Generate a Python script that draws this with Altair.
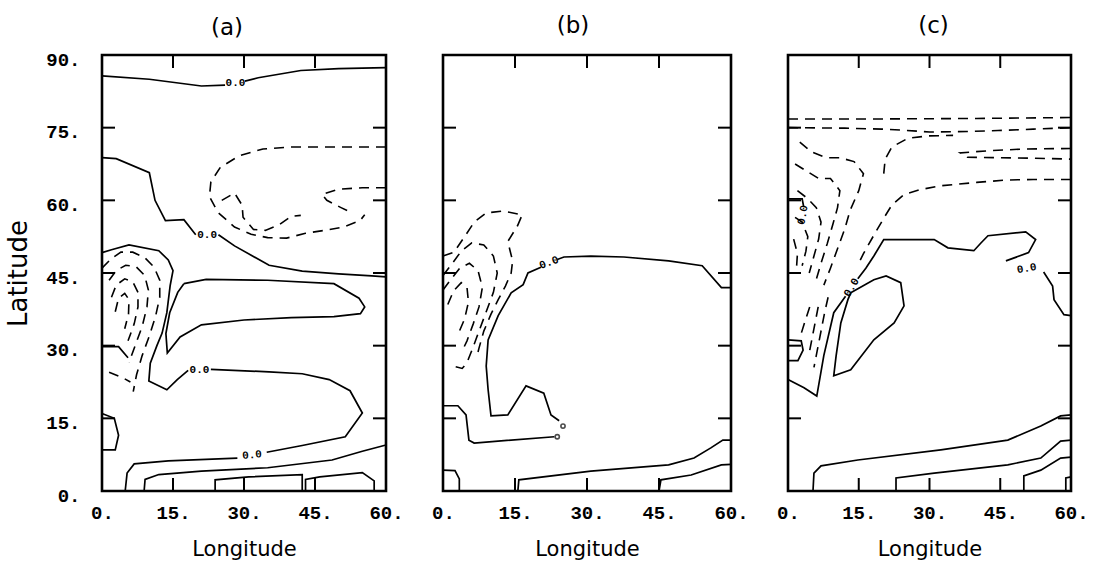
import altair as alt
import pandas as pd

# Axis ticks and labels
LON_TICKS = [0, 15, 30, 45, 60]
LAT_TICKS = [0, 15, 30, 45, 60, 75, 90]
LON_INNER = [15, 30, 45]
LAT_INNER = [15, 30, 45, 60, 75]

# ---------------- panel (a) contours: (lon, lat) ----------------
a_top_w = [(0, 85.7), (10, 85.0), (21, 83.6), (26, 83.8)]
a_top_e = [(30.2, 84.6), (33, 85.3), (42, 86.8), (50, 87.2), (60, 87.4)]
a_mid_w = [(0, 68.8), (3, 68.6), (10, 65.7), (11.2, 60), (13.4, 55.8), (17.3, 56), (19.8, 52.9)]
a_mid_e = [(24.6, 52.9), (28, 50.6), (35.3, 46.6), (42.3, 45.4), (50, 44.8), (57, 44.4), (60, 44.2)]
a_loop_n = [(0, 49.2), (2, 49.8), (5.7, 50.8), (12, 49.6), (14, 47.7), (15, 45.5), (14.4, 42.4),
            (13.7, 36.8), (12.7, 32.6), (11.6, 30), (10.2, 26.4), (9.9, 22.7), (13.7, 20.9),
            (15.9, 23), (18.2, 24.9)]
a_loop_s = [(23, 25.1), (35.3, 24.6), (42.3, 24.2), (48, 23), (52.4, 20.7), (55, 16.1),
            (51.4, 11.2), (42.3, 9.4), (34.8, 8.0)]
a_loop_b = [(28.6, 6.8), (14, 6.2), (6.8, 5.6), (5.3, 3.7), (4.9, 0)]
a_tongue = [(17.3, 42.8), (22, 43.7), (35, 43.5), (49, 42.8), (54.3, 39.8), (55.5, 38),
            (54.6, 36.6), (49, 36), (40, 35.8), (30, 35.3), (21, 34.3), (16.5, 31.8),
            (13.8, 28.5), (13.5, 32.5), (14.3, 36.8), (16, 41), (17.3, 42.8)]
a_edge_box = [(0, 16), (2.6, 15), (3.5, 11.5), (2.8, 8.5), (0, 8.5)]
a_edge_30 = [(0, 29.8), (3.5, 29.8), (5.5, 27.5)]
a_low1 = [(8.9, 0), (9.1, 2.4), (12, 3.4), (21, 4.1), (35, 4.8), (48.6, 6.4), (55, 8.2), (60, 9.5)]
a_low2 = [(23.9, 0), (23.9, 2.3), (31, 2.9), (42.3, 3.4), (42.3, 0)]
a_low3 = [(43, 0), (43, 2.4), (46, 2.9), (55, 3.8), (57.5, 2.1), (57.5, 0)]

a_neg_outer = [(60, 71), (50, 71), (40, 71), (34, 70.6), (29, 69.2), (25, 66.8), (23, 63.8),
               (22.7, 60.8), (24.5, 57.5), (28, 54.5), (31.5, 53), (35, 52.3), (39, 52.2),
               (43, 53.2), (47, 53.8), (51, 54.5), (54.5, 55.8), (55.5, 57)]
a_neg_inner = [(60, 62.6), (55, 62.6), (50, 62.3), (46.5, 61.2), (47.5, 60), (50.5, 58.5), (53, 57.3)]
a_neg_mid = [(25.3, 60), (28, 61.5), (29.6, 59), (29.8, 56.5), (32, 54), (34.5, 53.8),
             (37.5, 55), (40, 56.7), (42, 56.9)]
a_core1 = [(0, 46), (2, 48), (4, 49.3), (6.5, 49.3), (9, 48.2), (11, 46.2), (12.2, 43.5),
           (12.2, 40), (11.3, 36), (10, 32), (8.5, 28), (7.3, 24), (6.6, 20.5)]
a_core2 = [(1.5, 43.5), (3, 45.5), (5, 46.6), (7.2, 46.3), (9, 44.5), (9.8, 41.5), (9.5, 38),
           (8.5, 34), (7, 30), (5.7, 26.5)]
a_core3 = [(2, 40), (3, 42.5), (4.8, 43.8), (6.5, 43.2), (7.6, 41), (7.6, 38), (6.8, 34.5), (5.5, 31)]
a_core4 = [(2.8, 37), (3.5, 39.8), (4.8, 40.8), (5.7, 39.5), (5.6, 36.5), (4.8, 33.5)]
a_core5 = [(1.5, 24.5), (4.5, 23.3), (6, 22.5)]

a_labels = [(28.2, 84.2, 0), (22.2, 52.9, 0), (20.6, 25.0, 0), (31.7, 7.4, 355)]
a_dots = []

# ---------------- panel (b) contours ----------------
b_zero_e = [(60, 42), (58, 42), (54, 46.5), (47, 47.5), (37.7, 48.3), (30.8, 48.5), (25.2, 48.3), (23.8, 47.8)]
b_zero_w = [(20.4, 46.2), (17.7, 45), (16.7, 42.6), (14.2, 40.9), (11.5, 36.2), (9.4, 31.2),
            (9, 25.8), (9.4, 20.9), (10, 15.5), (13.5, 15.7), (17.3, 21.7), (21, 20.2),
            (22.5, 15.7), (24.2, 14.5)]
b_low_a = [(0, 17.6), (3.1, 17.6), (4.8, 15.7), (5.4, 10.5), (6.5, 9.9), (23.2, 11.2)]
b_low_b = [(0, 4.3), (2.5, 4.2), (3.4, 2.5), (3.4, 0)]
b_low_c = [(15.6, 0), (15.8, 2.3), (30.8, 4.1), (47, 5.4), (52.3, 6.8), (55.8, 8.9), (58.3, 10.5), (60, 10.5)]
b_low_d = [(45, 0), (45.4, 2.3), (51.7, 3.3), (58, 5.4), (60, 5.5)]

b_neg1 = [(0, 48.5), (2.3, 49.3), (4.5, 52.5), (6.5, 55.5), (9, 57.4), (12.5, 57.8), (16.5, 57),
          (15.5, 54.7), (13.5, 51.5), (14.5, 47.5), (14.2, 45), (13, 42.3), (11.5, 39.5),
          (10, 36.5), (8.5, 33), (7.5, 29.5), (7, 27.5)]
b_neg2 = [(0, 44.5), (1.8, 46.8), (3.8, 49.5), (6, 51.2), (8.5, 50.8), (10.5, 48.5), (11.3, 45),
          (10.5, 41), (9, 37), (7.5, 33), (6.2, 29.5), (5, 26.5), (4, 25.3), (2, 25.8)]
b_neg3 = [(0, 41.5), (1.5, 43.5), (3.5, 46), (5.5, 47), (7.3, 45.5), (8.2, 42), (7.5, 38),
          (6.3, 34.5), (5, 31), (3.8, 28.5)]
b_neg4 = [(1, 38.5), (2.2, 41.3), (3.8, 43), (5, 42), (5.3, 39), (4.5, 35.5), (3.2, 32.5)]

b_labels = [(22.1, 47.1, 340)]
b_dots = [(25.0, 13.4), (23.8, 11.2)]

# ---------------- panel (c) contours ----------------
c_zero_w = [(0, 23), (3.4, 21.3), (6.1, 19.6), (7.6, 28), (9.7, 36.8), (12.2, 40.2)]
c_zero_m = [(14.8, 43.8), (16.5, 46), (18.2, 48.5), (20.3, 51.9), (31, 51.9), (33.9, 50.2),
            (39.4, 49.6), (40.9, 51.2), (42.4, 52.7), (50.4, 53.5), (52.5, 51.9), (51, 49.2),
            (46.2, 47.5)]
c_zero_e = [(54.2, 45.2), (56.1, 42.3), (56.4, 39.5), (58.5, 36.4), (60, 36.2)]
c_island = [(13.3, 40.9), (18.2, 43.6), (20.8, 44.4), (23.9, 43), (24.6, 38.2), (22.5, 34.7),
            (18.2, 31.2), (13.3, 25), (9.7, 23.8), (10.2, 27.9), (11.2, 34.7), (12.7, 39.5), (13.3, 40.9)]
c_edge_box = [(0, 31.2), (2.8, 31), (3.2, 29.1), (2.1, 26.9), (0, 26.9)]
c_edge_top = [(0, 60.3), (3, 60.3), (3.3, 58.8)]
c_low1 = [(5.3, 0), (5.5, 3.7), (7, 5.2), (14.8, 6.4), (32.4, 8.5), (46.6, 10.5), (53.6, 13.4),
          (57.8, 15.5), (60, 15.7)]
c_low2 = [(22.9, 0), (22.9, 2.7), (31, 3.7), (46.6, 5.4), (53.6, 6.8), (57.8, 10.3), (60, 10.5)]
c_low3 = [(50, 0), (50, 3.1), (53.6, 4.3), (57.8, 6.8), (60, 7)]
c_low4 = [(58.9, 0), (58.9, 2.7), (60, 2.9)]

c_neg_h1 = [(0, 76.8), (20, 76.8), (40, 76.9), (60, 77.1)]
c_neg_h2 = [(0, 75), (12, 74.9), (20, 74.7), (24, 74.5), (30, 74.1), (38, 74.2), (44.5, 74.4),
            (52, 74.7), (60, 75)]
c_neg_h3 = [(20.3, 65.5), (20.6, 68.5), (22, 71), (25.4, 72.8), (29.7, 73.3), (35, 73.4)]
c_neg_loop = [(60, 70.7), (50, 70.6), (42, 70.2), (36.5, 69.8), (38, 68.9), (45, 68.8), (52, 68.7), (60, 68.5)]
c_neg_arc = [(60, 64.3), (52, 64.3), (46.5, 64.2), (40, 63.7), (32.4, 63), (28, 62.2), (24.6, 61.2),
             (22, 59), (20.3, 56.3), (18.2, 52.8), (16, 49), (14.8, 46.6)]
c_fan1 = [(2.5, 72), (5, 70), (8, 68.8), (11, 68.8), (14, 68), (16, 65.5), (15, 62), (13.2, 58),
          (12, 54), (10.5, 50), (9, 46), (7.6, 42.5)]
c_fan2 = [(1.5, 67.5), (4, 66), (6.5, 64.5), (9, 64.5), (11, 62), (10.5, 58.5), (9.5, 55),
          (8.3, 51), (7, 47), (5.8, 43)]
c_fan3 = [(2, 62), (4, 60.5), (6, 58.5), (7, 55.5), (6.5, 52), (5.5, 48.5), (4.5, 45)]
c_fan4 = [(1.5, 56.5), (3, 55.5), (4.2, 52.5), (3.8, 49.5), (3, 46.5)]
c_fan5 = [(1.2, 52), (2, 49), (1.8, 46)]
c_fan6 = [(8.5, 40), (7.8, 37), (7.2, 34), (6.6, 31), (6, 28), (5.5, 25.5)]
c_fan7 = [(6.4, 38), (5.8, 35), (5.2, 32), (4.6, 29)]
c_fan8 = [(4.6, 38), (3.6, 35), (2.8, 32.5)]

c_labels = [(13.5, 42.0, 300), (50.6, 45.9, 350), (3.2, 57.0, 280)]
c_dots = []

PANEL_W = {"a": 284, "b": 288, "c": 283}
PANEL_H = 436


def lines_frame(groups):
    rows = []
    for gi, pts in enumerate(groups):
        for k, (lon, lat) in enumerate(pts):
            rows.append({"seg": gi, "k": k, "lon": lon, "lat": lat})
    return pd.DataFrame(rows)


def panel(name, solid, dashed, labels, dots, show_y, title_dx, title_dy):
    w = PANEL_W[name]
    xs = alt.Scale(domain=[0, 60], nice=False, zero=False)
    ys = alt.Scale(domain=[0, 90], nice=False, zero=False)
    x = alt.X("lon:Q", scale=xs, title="Longitude",
              axis=alt.Axis(values=LON_TICKS, labelExpr="datum.value + '.'", labelFlush=False))
    if show_y:
        y = alt.Y("lat:Q", scale=ys, title="Latitude",
                  axis=alt.Axis(values=LAT_TICKS, labelExpr="datum.value + '.'", labelFlush=False))
    else:
        y = alt.Y("lat:Q", scale=ys, axis=None)

    solid_l = alt.Chart(lines_frame(solid)).mark_line(color="black", strokeWidth=1.7).encode(
        x=x, y=y, detail="seg:N", order="k:Q")
    dashed_l = alt.Chart(lines_frame(dashed)).mark_line(
        color="black", strokeWidth=1.6, strokeDash=[10, 7]).encode(
        x=x, y=y, detail="seg:N", order="k:Q")

    lon_df = pd.DataFrame({"lon": LON_INNER})
    lat_df = pd.DataFrame({"lat": LAT_INNER})
    tick = dict(color="black", strokeWidth=2)
    t_top = alt.Chart(lon_df).mark_rule(**tick).encode(x=x, y=alt.value(0), y2=alt.value(13))
    t_bot = alt.Chart(lon_df).mark_rule(**tick).encode(x=x, y=alt.value(PANEL_H), y2=alt.value(PANEL_H - 13))
    t_lft = alt.Chart(lat_df).mark_rule(**tick).encode(y=y, x=alt.value(0), x2=alt.value(13))
    t_rgt = alt.Chart(lat_df).mark_rule(**tick).encode(y=y, x=alt.value(w), x2=alt.value(w - 13))

    layers = [solid_l, dashed_l, t_top, t_bot, t_lft, t_rgt]
    if labels:
        ldf = pd.DataFrame([{"lon": a, "lat": b, "ang": c, "t": "0.0"} for a, b, c in labels])
        layers.append(alt.Chart(ldf).mark_text(
            font="Liberation Mono", fontSize=11, fontWeight="bold", color="black").encode(
            x=x, y=y, text="t:N", angle=alt.Angle("ang:Q", scale=None)))
    if dots:
        ddf = pd.DataFrame([{"lon": a, "lat": b} for a, b in dots])
        layers.append(alt.Chart(ddf).mark_point(
            shape="circle", size=18, filled=False, color="black", strokeWidth=1.6).encode(x=x, y=y))

    return alt.layer(*layers).properties(
        width=w, height=PANEL_H,
        title=alt.TitleParams(f"({name})", dx=title_dx, dy=title_dy))


pa = panel("a",
           [a_top_w, a_top_e, a_mid_w, a_mid_e, a_loop_n, a_loop_s, a_loop_b, a_tongue,
            a_edge_box, a_edge_30, a_low1, a_low2, a_low3],
           [a_neg_outer, a_neg_inner, a_neg_mid, a_core1, a_core2, a_core3, a_core4, a_core5],
           a_labels, a_dots, True, -17, 0)
pb = panel("b",
           [b_zero_e, b_zero_w, b_low_a, b_low_b, b_low_c, b_low_d],
           [b_neg1, b_neg2, b_neg3, b_neg4],
           b_labels, b_dots, False, -14, -6)
pc = panel("c",
           [c_zero_w, c_zero_m, c_zero_e, c_island, c_edge_box, c_edge_top, c_low1, c_low2, c_low3, c_low4],
           [c_neg_h1, c_neg_h2, c_neg_h3, c_neg_loop, c_neg_arc, c_fan1, c_fan2, c_fan3, c_fan4,
            c_fan5, c_fan6, c_fan7, c_fan8],
           c_labels, c_dots, False, 4, -6)

chart = alt.hconcat(pa, pb, pc, spacing=57, bounds="flush").properties(
    padding={"left": 4, "top": 13, "right": 0, "bottom": 0},
    background="white"
).configure_view(
    stroke="black", strokeWidth=2.6
).configure_axis(
    domain=False, ticks=False, grid=False,
    labelFont="Liberation Mono", labelFontSize=19, labelFontWeight="bold", labelColor="black",
    titleFont="DejaVu Sans", titleFontWeight="normal", titleColor="black"
).configure_axisX(
    labelPadding=12, titleFontSize=21, titlePadding=16
).configure_axisY(
    labelPadding=22, titleFontSize=26, titlePadding=14, labelOffset=4
).configure_title(
    font="DejaVu Sans", fontSize=23, fontWeight="normal", color="black", offset=10
)

chart.save("out.html", embed_options={"renderer": "svg", "actions": False})
